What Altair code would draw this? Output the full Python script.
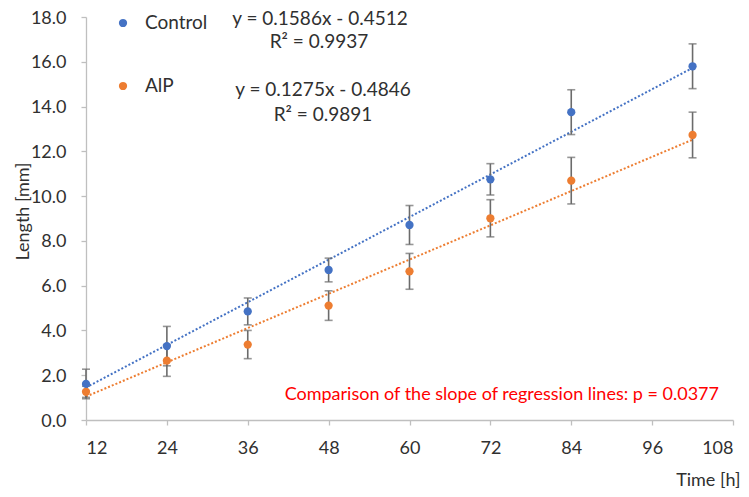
import altair as alt
import pandas as pd

FONT = "Lato"
TXT = "#303030"

time_h = [12, 24, 36, 48, 60, 72, 84, 102]
control = [1.61, 3.30, 4.85, 6.70, 8.71, 10.75, 13.75, 15.80]
control_err = [0.66, 0.88, 0.60, 0.53, 0.87, 0.70, 1.00, 1.00]
aip = [1.26, 2.65, 3.37, 5.11, 6.64, 9.01, 10.69, 12.73]
aip_err = [0.25, 0.70, 0.63, 0.66, 0.80, 0.83, 1.04, 1.02]

series_names = ["Control", "AlP"]
series_colors = ["#4472C4", "#ED7D31"]
trend_slopes = [0.1586, 0.1275]
trend_intercepts = [-0.4512, -0.4846]
x_ticks = [12, 24, 36, 48, 60, 72, 84, 96, 108]
y_ticks = [0, 2, 4, 6, 8, 10, 12, 14, 16, 18]

eq_labels = ["y = 0.1586x - 0.4512", "R² = 0.9937", "y = 0.1275x - 0.4846", "R² = 0.9891"]
note = "Comparison of the slope of regression lines: p = 0.0377"

rows = []
for i, (vals, errs) in enumerate([(control, control_err), (aip, aip_err)]):
    for t, v, e in zip(time_h, vals, errs):
        rows.append({
            "time": t, "length": v, "lo": v - e, "hi": v + e,
            "series": series_names[i], "slope": trend_slopes[i], "icpt": trend_intercepts[i],
        })
df = pd.DataFrame(rows)

base = alt.Chart(df)

x_enc = alt.X(
    "time:Q",
    scale=alt.Scale(domain=[12, 108], nice=False, zero=False),
    axis=alt.Axis(
        values=x_ticks, title="Time [h]", labelPadding=14,
        titleAnchor="end", titleAlign="right", titleBaseline="middle",
        titleX=654, titleY=60,
    ),
)
y_enc = alt.Y(
    "length:Q",
    scale=alt.Scale(domain=[0, 18], nice=False),
    axis=alt.Axis(
        values=y_ticks, format=".1f", title="Length [mm]", labelPadding=15, labelOffset=1,
        titleX=-63, titleY=194, titleBaseline="middle", titleAlign="center",
    ),
)
color_scale = alt.Scale(domain=series_names, range=series_colors)

trend = base.transform_calculate(
    fit="datum.slope * datum.time + datum.icpt"
).mark_line(strokeDash=[2, 2], strokeWidth=2).encode(
    x=x_enc,
    y=alt.Y("fit:Q"),
    color=alt.Color("series:N", scale=color_scale, legend=None),
)

bars = base.mark_rule(color="#6b6b6b", strokeWidth=1.6).encode(
    x="time:Q", y="lo:Q", y2="hi:Q"
)
caps_lo = base.mark_tick(color="#6b6b6b", orient="horizontal", size=8, thickness=1.6).encode(
    x="time:Q", y="lo:Q"
)
caps_hi = base.mark_tick(color="#6b6b6b", orient="horizontal", size=8, thickness=1.6).encode(
    x="time:Q", y="hi:Q"
)

points = base.mark_point(filled=True, size=68, opacity=1).encode(
    x="time:Q",
    y=y_enc,
    color=alt.Color("series:N", scale=color_scale, legend=None),
)


def label(text, px, py, size=19, color=TXT, align="center"):
    return alt.Chart(pd.DataFrame({"t": [text]})).mark_text(
        font=FONT, fontSize=size, color=color, align=align, baseline="middle"
    ).encode(text="t:N", x=alt.value(px), y=alt.value(py))


legend_layers = []
for i, name in enumerate(series_names):
    ly = 6 + 63 * i
    legend_layers.append(
        alt.Chart(pd.DataFrame({"t": [name]})).mark_point(
            filled=True, size=68, opacity=1, color=series_colors[i]
        ).encode(x=alt.value(37), y=alt.value(ly))
    )
    legend_layers.append(label(name, 59, ly, align="left"))

annots = [
    label(eq_labels[0], 234, 2),
    label(eq_labels[1], 233, 25),
    label(eq_labels[2], 237, 73),
    label(eq_labels[3], 237, 98),
    label(note, 633, 378, size=18, color="#FF0000", align="right"),
]

chart = alt.layer(trend, bars, caps_lo, caps_hi, points, *legend_layers, *annots).properties(
    width=647, height=403,
    padding={"left": 78, "top": 9, "right": 8, "bottom": 69},
    autosize=alt.AutoSizeParams(type="none"),
).configure_view(stroke=None).configure_axis(
    grid=False, domainColor="#BFBFBF", tickColor="#BFBFBF", tickSize=5,
    domainWidth=1.3, tickWidth=1.3,
    labelFont=FONT, labelFontSize=18, labelColor=TXT,
    titleFont=FONT, titleFontSize=18, titleColor=TXT, titleFontWeight="normal",
)

chart.save("out.html", embed_options={"renderer": "svg", "actions": False})
